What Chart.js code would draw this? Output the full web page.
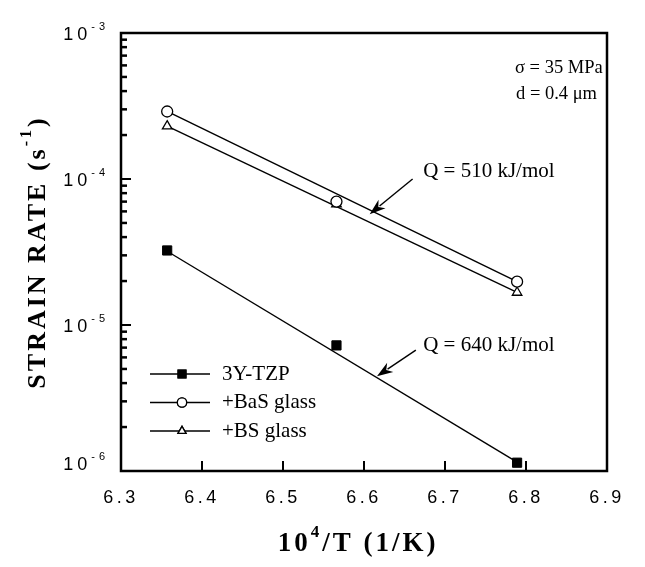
<!DOCTYPE html>
<html lang="en">
  <head>
    <meta charset="UTF-8" />
    <title>Strain rate vs 1/T</title>
    <style>
      body {
        margin: 0;
        background: #fff;
      }
      #wrap {
        width: 645px;
        height: 567px;
      }
    </style>
    <script src="https://cdn.jsdelivr.net/npm/chart.js"></script>
  </head>
  <body>
    <div id="wrap"><canvas id="chart" width="645" height="567"></canvas></div>

    <script>
      // 10^4/T for 1300, 1250, 1200 C
      const invT = [6.357, 6.566, 6.789];

      // measured strain rates (1/s)
      const tzpRate = [3.24e-5, 7.25e-6, 1.14e-6];
      const basRate = [2.9e-4, 7.0e-5, 1.98e-5];
      const bsRate = [2.3e-4, 6.73e-5, 1.67e-5];

      // ends of the drawn fit lines
      const fitX = [6.357, 6.789];
      const tzpFit = [3.2e-5, 1.15e-6];
      const basFit = [2.9e-4, 1.98e-5];
      const bsFit = [2.3e-4, 1.67e-5];

      const xTicks = [6.3, 6.4, 6.5, 6.6, 6.7, 6.8, 6.9];
      const yDecades = [-3, -4, -5, -6];

      const seriesNames = ["3Y-TZP", "+BaS glass", "+BS glass"];

      // annotation anchors in data units: [text x, text y, tail x, tail y, tip x, tip y]
      const q510 = [6.673, 1.12e-4, 6.66, 1.0e-4, 6.607, 5.74e-5];
      const q640 = [6.673, 7.28e-6, 6.664, 6.73e-6, 6.616, 4.45e-6];

      const SERIF = '"Liberation Serif", "Times New Roman", serif';
      const SANS = '"Liberation Sans", Arial, sans-serif';

      function pts(xs, ys) {
        return xs.map((x, i) => ({ x, y: ys[i] }));
      }

      // draw text made of normal and superscript pieces
      function rich(ctx, parts, x, y, size, weight, spacing, align) {
        const fonts = parts.map(
          (p) => `${weight} ${p.sup ? Math.round(size * 0.62) : size}px ${p.ff || SERIF}`
        );
        let w = 0;
        const widths = parts.map((p, i) => {
          ctx.font = fonts[i];
          ctx.letterSpacing = spacing + "px";
          const m = ctx.measureText(p.text).width;
          w += m;
          return m;
        });
        let cx = align === "center" ? x - w / 2 : align === "right" ? x - w : x;
        ctx.textAlign = "left";
        ctx.textBaseline = "middle";
        parts.forEach((p, i) => {
          ctx.font = fonts[i];
          ctx.letterSpacing = spacing + "px";
          ctx.fillText(p.text, cx, p.sup ? y - size * 0.42 : y);
          cx += widths[i];
        });
        ctx.letterSpacing = "0px";
      }

      function arrow(ctx, x1, y1, x2, y2) {
        const a = Math.atan2(y2 - y1, x2 - x1);
        const len = 16;
        const half = 5.5;
        ctx.lineWidth = 1.4;
        ctx.beginPath();
        ctx.moveTo(x1, y1);
        ctx.lineTo(x2 - Math.cos(a) * len * 0.8, y2 - Math.sin(a) * len * 0.8);
        ctx.stroke();
        ctx.beginPath();
        ctx.moveTo(x2, y2);
        ctx.lineTo(
          x2 - Math.cos(a) * len - Math.sin(a) * half,
          y2 - Math.sin(a) * len + Math.cos(a) * half
        );
        ctx.lineTo(x2 - Math.cos(a) * len * 0.7, y2 - Math.sin(a) * len * 0.7);
        ctx.lineTo(
          x2 - Math.cos(a) * len + Math.sin(a) * half,
          y2 - Math.sin(a) * len - Math.cos(a) * half
        );
        ctx.closePath();
        ctx.fill();
      }

      const decor = {
        id: "decor",
        afterDatasetsDraw(chart) {
          const { ctx, chartArea: ca } = chart;
          const xs = chart.scales.x;
          const ys = chart.scales.y;
          ctx.save();
          ctx.strokeStyle = "#000";
          ctx.fillStyle = "#000";

          // frame
          ctx.lineWidth = 2.5;
          ctx.strokeRect(ca.left, ca.top, ca.right - ca.left, ca.bottom - ca.top);

          // x ticks (inward) and labels
          ctx.lineWidth = 2;
          xTicks.forEach((v) => {
            const px = xs.getPixelForValue(v);
            if (v > 6.3 && v < 6.9) {
              ctx.beginPath();
              ctx.moveTo(px, ca.bottom);
              ctx.lineTo(px, ca.bottom - 10);
              ctx.stroke();
            }
            rich(ctx, [{ text: v.toFixed(1), ff: SANS }], px, ca.bottom + 27, 18, "normal", 3.5, "center");
          });

          // y ticks: decades long, 2..9 short
          yDecades.forEach((d) => {
            for (let m = 1; m <= 9; m++) {
              const v = m * Math.pow(10, d);
              if (v > 1.0001e-3) continue;
              const py = ys.getPixelForValue(v);
              ctx.lineWidth = m === 1 ? 2 : 2.5;
              ctx.beginPath();
              ctx.moveTo(ca.left, py);
              ctx.lineTo(ca.left + (m === 1 ? 10 : 6), py);
              ctx.stroke();
            }
            const py = ys.getPixelForValue(Math.pow(10, d));
            rich(
              ctx,
              [
                { text: "10", ff: SANS },
                { text: "-" + -d, ff: SANS, sup: true },
              ],
              ca.left - 12,
              py + (d === -6 ? -6 : 2),
              18,
              "normal",
              4,
              "right"
            );
          });

          // axis titles
          rich(
            ctx,
            [{ text: "10" }, { text: "4", sup: true }, { text: "/T (1/K)" }],
            (ca.left + ca.right) / 2 - 6,
            ca.bottom + 73,
            27,
            "bold",
            3,
            "center"
          );
          ctx.save();
          ctx.translate(38, (ca.top + ca.bottom) / 2 + 0);
          ctx.rotate(-Math.PI / 2);
          rich(
            ctx,
            [{ text: "STRAIN RATE (s" }, { text: "-1", sup: true }, { text: ")" }],
            0,
            0,
            26,
            "bold",
            3,
            "center"
          );
          ctx.restore();

          // conditions
          rich(ctx, [{ text: "σ = 35 MPa" }], ca.right - 92, ca.top + 35, 18.5, "normal", 0, "left");
          rich(ctx, [{ text: "d = 0.4 μm" }], ca.right - 91, ca.top + 61, 18.5, "normal", 0, "left");

          // activation energy labels with arrows
          [
            [q510, "Q = 510 kJ/mol"],
            [q640, "Q = 640 kJ/mol"],
          ].forEach(([a, label]) => {
            rich(
              ctx,
              [{ text: label }],
              xs.getPixelForValue(a[0]),
              ys.getPixelForValue(a[1]),
              21,
              "normal",
              0,
              "left"
            );
            arrow(
              ctx,
              xs.getPixelForValue(a[2]),
              ys.getPixelForValue(a[3]),
              xs.getPixelForValue(a[4]),
              ys.getPixelForValue(a[5])
            );
          });

          // legend
          const styles = chart.data.datasets.slice(0, 3);
          styles.forEach((ds, i) => {
            const ly = ca.top + 341 + i * 28.5;
            const lx = ca.left + 29;
            ctx.lineWidth = 1.3;
            ctx.beginPath();
            ctx.moveTo(lx, ly);
            ctx.lineTo(lx + 60, ly);
            ctx.stroke();
            Chart.helpers.drawPoint(
              ctx,
              {
                pointStyle: ds.pointStyle,
                radius: ds.pointRadius * 0.85,
                borderWidth: ds.borderWidth,
              },
              lx + 32,
              ly
            );
            ctx.fillStyle = ds.backgroundColor;
            ctx.fill();
            ctx.stroke();
            ctx.fillStyle = "#000";
            rich(ctx, [{ text: seriesNames[i] }], lx + 72, ly, 21, "normal", 0, "left");
          });
          ctx.restore();
        },
      };

      const lineStyle = {
        showLine: true,
        pointRadius: 0,
        borderColor: "#000",
        borderWidth: 1.4,
        order: 2,
      };

      new Chart(document.getElementById("chart"), {
        type: "scatter",
        data: {
          datasets: [
            {
              label: seriesNames[0],
              data: pts(invT, tzpRate),
              pointStyle: "rect",
              pointRadius: 6.5,
              backgroundColor: "#000",
              borderColor: "#000",
              borderWidth: 1,
              order: 0,
            },
            {
              label: seriesNames[1],
              data: pts(invT, basRate),
              pointStyle: "circle",
              pointRadius: 5.5,
              backgroundColor: "#fff",
              borderColor: "#000",
              borderWidth: 1.3,
              order: 0,
            },
            {
              label: seriesNames[2],
              data: pts(invT, bsRate),
              pointStyle: "triangle",
              pointRadius: 5.5,
              backgroundColor: "#fff",
              borderColor: "#000",
              borderWidth: 1.3,
              order: 0,
            },
            { ...lineStyle, label: "fit 3Y-TZP", data: pts(fitX, tzpFit) },
            { ...lineStyle, label: "fit BaS", data: pts(fitX, basFit) },
            { ...lineStyle, label: "fit BS", data: pts(fitX, bsFit) },
          ],
        },
        options: {
          responsive: false,
          animation: false,
          events: [],
          layout: { padding: { top: 33, right: 38, left: 0, bottom: 0 } },
          plugins: {
            legend: { display: false },
            tooltip: { enabled: false },
          },
          scales: {
            x: {
              type: "linear",
              min: 6.3,
              max: 6.9,
              grid: { display: false },
              border: { display: false },
              ticks: { display: false },
              afterFit: (s) => {
                s.height = 96;
              },
            },
            y: {
              type: "logarithmic",
              min: 1e-6,
              max: 1e-3,
              grid: { display: false },
              border: { display: false },
              ticks: { display: false },
              afterFit: (s) => {
                s.width = 121;
              },
            },
          },
        },
        plugins: [decor],
      });
    </script>
  </body>
</html>
